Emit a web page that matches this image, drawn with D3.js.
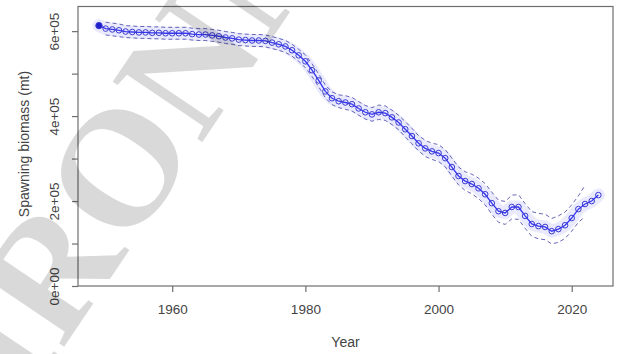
<!DOCTYPE html>
<html>
<head>
<meta charset="utf-8">
<script src="https://cdn.jsdelivr.net/npm/d3@7"></script>
<style>
  html, body { margin: 0; padding: 0; background: #fff; }
  svg { display: block; font-family: "Liberation Sans", Arial, sans-serif; }
</style>
</head>
<body>
<svg id="chart" width="617" height="354"></svg>
<script>
// Spawning biomass time series (mt) with approximate 95% interval
const years = [
  1949,1950,1951,1952,1953,1954,1955,1956,1957,1958,1959,
  1960,1961,1962,1963,1964,1965,1966,1967,1968,1969,
  1970,1971,1972,1973,1974,1975,1976,1977,1978,1979,
  1980,1981,1982,1983,1984,1985,1986,1987,1988,1989,
  1990,1991,1992,1993,1994,1995,1996,1997,1998,1999,
  2000,2001,2002,2003,2004,2005,2006,2007,2008,2009,
  2010,2011,2012,2013,2014,2015,2016,2017,2018,2019,
  2020,2021,2022,2023,2024
];
const spawningBiomass = [
  613000,606000,604000,602000,599000,598000,597000,597000,596000,596000,595000,
  595000,595000,595000,593000,592000,592000,590000,588000,585000,583000,
  580000,579000,578000,578000,577000,573000,569000,564000,555000,543000,
  529000,508000,484000,458000,442000,435000,432000,428000,418000,409000,
  404000,409000,407000,397000,385000,369000,353000,336000,324000,317000,
  313000,301000,280000,259000,247000,240000,230000,216000,195000,176000,
  172000,186000,186000,165000,146000,141000,139000,129000,134000,143000,
  160000,181000,193000,200000,214000
];
// interval bounds are reported through 2022
const lowerCI = [
  null,591000,589000,587000,585000,584000,583000,583000,582000,582000,581000,
  581000,581000,581000,579000,578000,578000,576000,574000,571000,569000,
  566000,565000,564000,564000,563000,559000,555000,550000,541000,529000,
  514000,493000,469000,443000,427000,420000,416000,412000,402000,393000,
  388000,392000,390000,380000,368000,351000,335000,318000,305000,298000,
  293000,281000,259000,238000,225000,217000,206000,191000,169000,150000,
  145000,158000,157000,136000,117000,111000,109000,99000,103000,112000,
  129000,150000,163000,null,null
];
const upperCI = [
  null,621000,619000,617000,613000,612000,611000,611000,610000,610000,609000,
  609000,609000,609000,607000,606000,606000,604000,602000,599000,597000,
  594000,593000,592000,592000,591000,587000,583000,578000,569000,557000,
  544000,523000,499000,473000,457000,450000,448000,444000,434000,425000,
  420000,426000,424000,414000,402000,387000,371000,354000,343000,336000,
  333000,321000,301000,280000,269000,263000,254000,241000,221000,202000,
  199000,214000,215000,194000,175000,171000,169000,159000,165000,174000,
  191000,212000,237000,null,null
];
const xTicks = [1960, 1980, 2000, 2020];
const yTicks = [0, 100000, 200000, 300000, 400000, 500000, 600000];
const yLabelled = [0, 200000, 400000, 600000];

(function draw() {
  const svg = d3.select("#chart");
  const pLeft = 78, pRight = 613, pTop = 6.5, pBottom = 286;

  const x = d3.scaleLinear().domain([1945.85, 2026.2]).range([pLeft, pRight]);
  const y = d3.scaleLinear().domain([0, 658000]).range([pBottom, pTop]);

  const axisColor = "#6e6e6e";
  const textColor = "#444";
  const fontFam = "Liberation Sans, Arial, sans-serif";
  const tickFont = 13.5, titleFont = 14;

  // plot frame
  svg.append("rect")
    .attr("x", pLeft).attr("y", pTop)
    .attr("width", pRight - pLeft).attr("height", pBottom - pTop)
    .attr("fill", "none").attr("stroke", axisColor).attr("stroke-width", 1.2);

  // x axis
  const gx = svg.append("g").attr("transform", `translate(0,${pBottom})`)
    .call(d3.axisBottom(x).tickValues(xTicks).tickFormat(d3.format("d")).tickSize(6).tickPadding(12.5));
  gx.select(".domain").remove();
  gx.selectAll("line").attr("stroke", axisColor).attr("stroke-width", 1.2);
  gx.selectAll("text").attr("fill", textColor).attr("font-size", tickFont).attr("font-family", fontFam);

  // y axis: ticks from the axis generator, labels turned parallel to the axis
  const sci = d => d === 0 ? "0e+00" : (d / 100000) + "e+05";
  const gy = svg.append("g").attr("transform", `translate(${pLeft},0)`)
    .call(d3.axisLeft(y).tickValues(yTicks).tickSize(6)
      .tickFormat(d => yLabelled.includes(d) ? sci(d) : ""));
  gy.select(".domain").remove();
  gy.selectAll("line").attr("stroke", axisColor).attr("stroke-width", 1.2);
  gy.selectAll(".tick text")
    .attr("fill", textColor).attr("font-size", tickFont).attr("font-family", fontFam)
    .attr("text-anchor", "middle").attr("dy", null)
    .attr("x", 0).attr("y", -19.5)
    .attr("transform", "rotate(-90)");

  // axis titles
  svg.append("text")
    .attr("x", (pLeft + pRight) / 2).attr("y", 347)
    .attr("text-anchor", "middle").attr("font-size", titleFont).attr("fill", textColor)
    .text("Year");
  svg.append("text")
    .attr("transform", `translate(29,144) rotate(-90)`)
    .attr("text-anchor", "middle").attr("font-size", titleFont).attr("fill", textColor)
    .text("Spawning biomass (mt)");

  const series = years.map((yr, i) => ({
    year: yr, sb: spawningBiomass[i], lo: lowerCI[i], hi: upperCI[i]
  }));

  const plot = svg.append("g");
  const line = d3.line().x(d => x(d.year)).y(d => y(d.sb));

  // soft halo along the series
  plot.append("path").datum(series)
    .attr("d", line)
    .attr("fill", "none").attr("stroke", "#7a7aff").attr("stroke-opacity", 0.16)
    .attr("stroke-width", 13).attr("stroke-linejoin", "round").attr("stroke-linecap", "round");

  // interval bounds (dashed)
  for (const key of ["lo", "hi"]) {
    plot.append("path").datum(series)
      .attr("d", d3.line().defined(d => d[key] != null).x(d => x(d.year)).y(d => y(d[key])))
      .attr("fill", "none").attr("stroke", "#4a4aa8").attr("stroke-width", 1)
      .attr("stroke-dasharray", "4,3").attr("stroke-opacity", 0.85);
  }

  // estimate line
  plot.append("path").datum(series)
    .attr("d", line)
    .attr("fill", "none").attr("stroke", "#3535f5").attr("stroke-width", 1.3);

  // points
  plot.selectAll("circle.pt").data(series).join("circle")
    .attr("class", "pt")
    .attr("cx", d => x(d.year)).attr("cy", d => y(d.sb))
    .attr("r", (d, i) => i === 0 ? 3.2 : 2.8)
    .attr("fill", (d, i) => i === 0 ? "#1f1fcc" : "none")
    .attr("stroke", "#3a3ad0").attr("stroke-width", 1);

  // watermark text across the left part of the figure
  const wm = svg.append("g").attr("transform", "translate(62,350) rotate(-56)");
  const wmText = wm.append("text")
    .attr("font-family", "Liberation Serif, Times New Roman, serif")
    .attr("font-weight", "bold")
    .attr("font-size", 165)
    .attr("fill", "#000").attr("fill-opacity", 0.15)
    .text("ENVIRONMENT");
  const lead = wmText.node().getSubStringLength(0, 4);
  wmText.attr("x", -lead);
})();
</script>
</body>
</html>
